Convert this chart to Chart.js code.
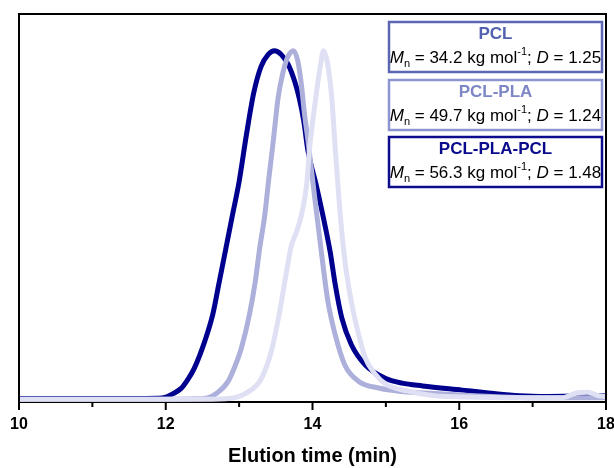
<!DOCTYPE html>
<html>
<head>
<meta charset="utf-8">
<script src="https://cdn.jsdelivr.net/npm/chart.js@4.4.1/dist/chart.umd.min.js"></script>
<style>
  html, body { margin: 0; padding: 0; background: #fff; overflow: hidden; }
  canvas { display: block; }
</style>
</head>
<body>
<canvas id="gpcChart" width="614" height="468"></canvas>
<script>
// Elution times (min) and normalised RI signal for each sample
const pclTime = [10, 12.5, 12.89, 13.1, 13.3, 13.44, 13.55, 13.64, 13.71, 13.78, 13.85, 13.92, 13.96, 14.01, 14.06, 14.11, 14.15, 14.2, 14.26, 14.31, 14.37, 14.44, 14.53, 14.63, 14.72, 14.85, 15.0, 15.3, 15.8, 17.4, 17.6, 17.75, 17.9, 18];
const pclSignal = [0.002, 0.002, 0.005, 0.02, 0.06, 0.14, 0.25, 0.36, 0.44, 0.48, 0.53, 0.616, 0.72, 0.81, 0.89, 0.96, 1.0, 0.97, 0.87, 0.72, 0.55, 0.40, 0.28, 0.186, 0.12, 0.075, 0.045, 0.025, 0.01, 0.006, 0.02, 0.022, 0.012, 0.01];

const pclPlaTime = [10, 12.0, 12.4, 12.57, 12.7, 12.85, 12.95, 13.03, 13.14, 13.22, 13.28, 13.35, 13.4, 13.47, 13.53, 13.6, 13.67, 13.74, 13.8, 13.85, 13.89, 13.94, 14.03, 14.12, 14.21, 14.31, 14.44, 14.63, 14.9, 15.22, 15.67, 16.2, 16.8, 17.5, 18];
const pclPlaSignal = [0.002, 0.002, 0.003, 0.006, 0.02, 0.053, 0.1, 0.148, 0.244, 0.339, 0.434, 0.53, 0.625, 0.75, 0.863, 0.94, 0.985, 1.0, 0.97, 0.9, 0.82, 0.74, 0.58, 0.425, 0.282, 0.186, 0.1, 0.053, 0.034, 0.024, 0.018, 0.012, 0.007, 0.006, 0.006];

const triblockTime = [10, 11, 11.9, 12.0, 12.1, 12.21, 12.3, 12.39, 12.53, 12.64, 12.73, 12.82, 12.91, 13.0, 13.1, 13.2, 13.3, 13.4, 13.48, 13.57, 13.67, 13.76, 13.82, 13.88, 13.94, 14.05, 14.15, 14.24, 14.31, 14.4, 14.53, 14.72, 14.99, 15.22, 15.5, 16.04, 16.4, 16.82, 17.2, 17.5, 17.7, 17.9, 18];
const triblockSignal = [0.004, 0.004, 0.005, 0.008, 0.018, 0.033, 0.058, 0.091, 0.167, 0.244, 0.339, 0.434, 0.53, 0.625, 0.76, 0.88, 0.955, 0.99, 1.0, 0.99, 0.96, 0.91, 0.863, 0.8, 0.711, 0.616, 0.52, 0.425, 0.33, 0.234, 0.158, 0.1, 0.062, 0.048, 0.04, 0.028, 0.02, 0.012, 0.01, 0.011, 0.016, 0.012, 0.012];

// Legend annotation data
const sampleNames = ['PCL', 'PCL-PLA', 'PCL-PLA-PCL'];
const molarMass = ['34.2', '49.7', '56.3'];
const dispersity = ['1.25', '1.24', '1.48'];

const xTickValues = [10, 12, 14, 16, 18];

const lineColors = ['#dfe0f3', '#aeb0dc', '#00008f'];
const boxBorderColors = ['#5c67b4', '#8c95cf', '#0c0c8c'];
const boxTitleColors = ['#5262b0', '#7d87c6', '#0a0a8c'];

const FONT = '"Liberation Sans", Arial, sans-serif';

function toPoints(xs, ys) {
    return xs.map((x, i) => ({ x: x, y: ys[i] }));
}

// Draws frame, custom tick marks and the stacked legend boxes
const framePlugin = {
    id: 'framePlugin',
    afterDraw(chart) {
        const { ctx, chartArea: a, scales } = chart;
        ctx.save();
        ctx.strokeStyle = '#000';
        ctx.lineWidth = 2;
        ctx.beginPath();
        ctx.moveTo(a.left, a.bottom);
        ctx.lineTo(a.left, a.top);
        ctx.lineTo(a.right, a.top);
        ctx.lineTo(a.right, a.bottom);
        ctx.stroke();

        // major ticks longer than minor ones
        const xs = scales.x;
        xs.ticks.forEach(t => {
            const px = xs.getPixelForValue(t.value);
            const len = xTickValues.includes(t.value) ? 8 : 5;
            ctx.beginPath();
            ctx.moveTo(px, a.bottom);
            ctx.lineTo(px, a.bottom + len);
            ctx.stroke();
        });

        // legend boxes
        const boxLeft = 389, boxW = 213, boxH = 50;
        const boxTops = [22, 80, 137];
        sampleNames.forEach((name, i) => {
            const top = boxTops[i];
            ctx.lineWidth = 2.5;
            ctx.strokeStyle = boxBorderColors[i];
            ctx.fillStyle = '#fff';
            ctx.fillRect(boxLeft, top, boxW, boxH);
            ctx.strokeRect(boxLeft, top, boxW, boxH);

            const cx = boxLeft + boxW / 2;
            ctx.textBaseline = 'middle';
            ctx.textAlign = 'center';
            ctx.font = 'bold 17px ' + FONT;
            ctx.fillStyle = boxTitleColors[i];
            ctx.fillText(name, cx, top + 12);

            const segs = [
                { t: 'M', f: 'italic 17px ' + FONT, dy: 0 },
                { t: 'n', f: '11px ' + FONT, dy: 6 },
                { t: ' = ' + molarMass[i] + ' kg mol', f: '17px ' + FONT, dy: 0 },
                { t: '-1', f: '11px ' + FONT, dy: -6 },
                { t: '; ', f: '17px ' + FONT, dy: 0 },
                { t: 'D', f: 'italic 17px ' + FONT, dy: 0 },
                { t: ' = ' + dispersity[i], f: '17px ' + FONT, dy: 0 }
            ];
            ctx.textAlign = 'left';
            let total = 0;
            segs.forEach(s => { ctx.font = s.f; s.w = ctx.measureText(s.t).width; total += s.w; });
            let x = cx - total / 2;
            ctx.fillStyle = '#000';
            segs.forEach(s => {
                ctx.font = s.f;
                ctx.fillText(s.t, x, top + 36 + s.dy);
                x += s.w;
            });
        });
        ctx.restore();
    }
};

new Chart(document.getElementById('gpcChart'), {
    type: 'line',
    data: {
        datasets: [
            { label: sampleNames[0], data: toPoints(pclTime, pclSignal), borderColor: lineColors[0], borderWidth: 5 },
            { label: sampleNames[1], data: toPoints(pclPlaTime, pclPlaSignal), borderColor: lineColors[1], borderWidth: 5 },
            { label: sampleNames[2], data: toPoints(triblockTime, triblockSignal), borderColor: lineColors[2], borderWidth: 5 }
        ]
    },
    options: {
        responsive: false,
        animation: false,
        layout: { autoPadding: false, padding: { left: 19, right: 8, top: 14, bottom: 0 } },
        elements: {
            point: { radius: 0 },
            line: { cubicInterpolationMode: 'monotone', fill: false }
        },
        plugins: { legend: { display: false }, tooltip: { enabled: false } },
        scales: {
            x: {
                type: 'linear',
                min: 10,
                max: 18,
                afterFit(scale) {
                    // fixed axis band; let the "18" label run past the frame
                    scale.height = 66;
                    scale.paddingLeft = 0;
                    scale.paddingRight = 0;
                },
                ticks: {
                    stepSize: 1,
                    autoSkip: false,
                    maxRotation: 0,
                    padding: 5,
                    color: '#000',
                    font: { family: FONT, size: 16, weight: 'bold' },
                    callback: v => xTickValues.includes(v) ? String(v) : ''
                },
                grid: { drawOnChartArea: false, drawTicks: true, tickLength: 8, tickColor: 'rgba(0,0,0,0)' },
                border: { display: true, color: '#000', width: 2 },
                title: {
                    display: true,
                    text: 'Elution time (min)',
                    color: '#000',
                    font: { family: FONT, size: 20, weight: 'bold' },
                    padding: { top: 9, bottom: 0 }
                }
            },
            y: { display: false, min: -0.006, max: 1.105 }
        }
    },
    plugins: [framePlugin]
});
</script>
</body>
</html>
